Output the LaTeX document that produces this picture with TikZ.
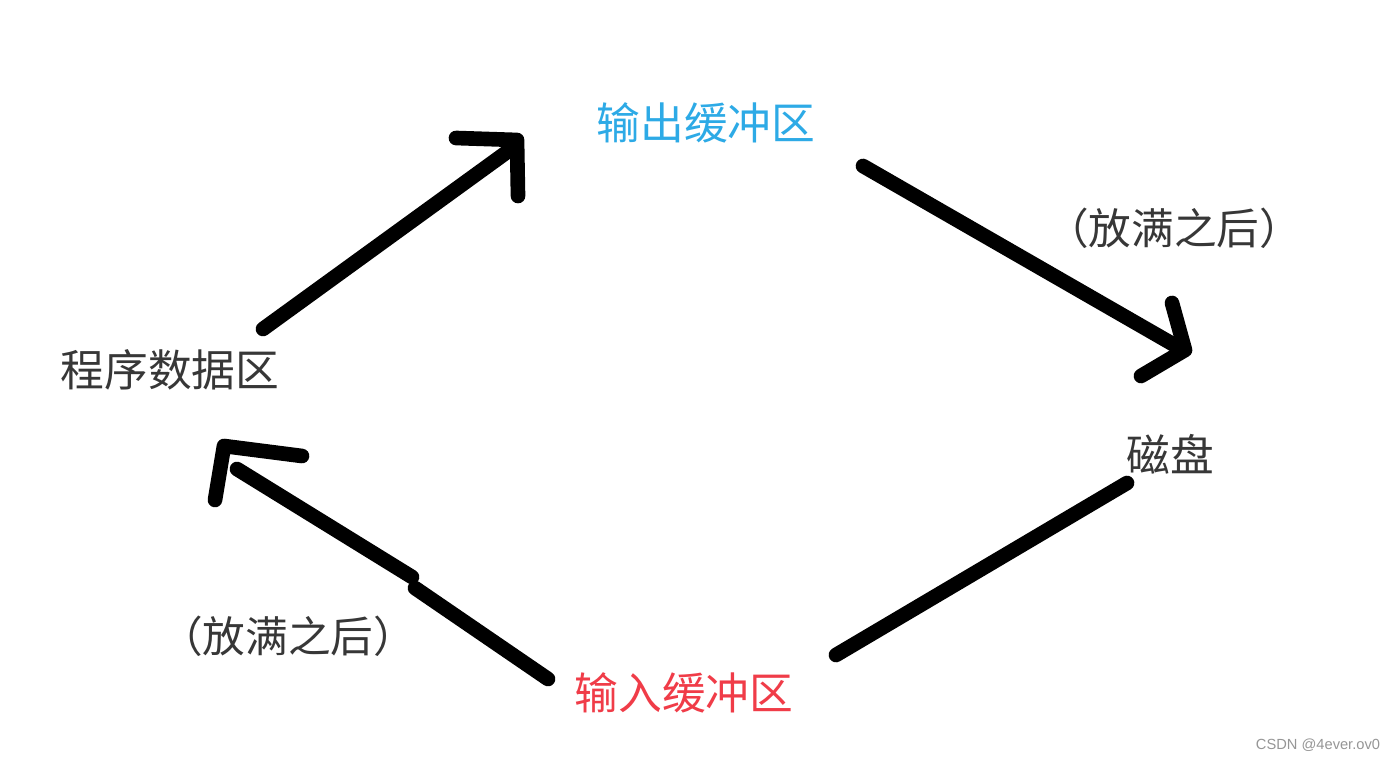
\documentclass[tikz,border=0pt]{standalone}
\usepackage{fontspec}
\setmainfont{Liberation Sans}
\newfontfamily\cjk{Noto Sans CJK SC}
\definecolor{txtgray}{RGB}{55,55,55}
\definecolor{outblue}{RGB}{45,170,230}
\definecolor{inred}{RGB}{240,60,72}
\definecolor{wmgray}{RGB}{150,150,150}
\begin{document}
\begin{tikzpicture}[x=0.75pt,y=-0.75pt,
  lbl/.style={inner sep=0pt,anchor=center,font=\cjk\fontsize{32.8}{33}\selectfont,text=txtgray},
  note/.style={inner sep=0pt,anchor=center,font=\cjk\fontsize{32}{32}\selectfont,text=txtgray},
  stroke/.style={line width=11pt,line cap=round,line join=round,black}]
\useasboundingbox[fill=white] (0,0) rectangle (1393,759);
% labels
\node[lbl,text=outblue] (out) at (706,123) {输出缓冲区};
\node[lbl] (prog) at (170,370) {程序数据区};
\node[lbl] (disk) at (1170,454) {磁盘};
\node[lbl,text=inred] (in) at (684,693) {输入缓冲区};
\node[note] (fullA) at (1174,228) {（放满之后）};
\node[note] (fullB) at (288,636) {（放满之后）};
\node[inner sep=0pt,font=\fontsize{11}{11}\selectfont,text=wmgray] (wm) at (1318,745) {CSDN @4ever.ov0};
% connector end points
\coordinate (a1s) at (263,329);
\coordinate (a1e) at (507,152);
\coordinate (a1h1) at (456,138);
\coordinate (a1t) at (517,140);
\coordinate (a1h2) at (518,196);
\coordinate (a2s) at (863,166);
\coordinate (a2e) at (1183,350);
\coordinate (a2h1) at (1172,303);
\coordinate (a2t) at (1185,350);
\coordinate (a2h2) at (1141,376);
\coordinate (l3s) at (1127,483);
\coordinate (l3e) at (836,655);
\coordinate (a4s) at (548,679);
\coordinate (a4m1) at (415,588);
\coordinate (a4m2) at (412,577);
\coordinate (a4e) at (237,469);
\coordinate (a4h1) at (302,456);
\coordinate (a4t) at (224,446);
\coordinate (a4h2) at (215,500);
% connectors
\draw[stroke] (a1s) -- (a1e);
\draw[stroke] (a1h1) -- (a1t) -- (a1h2);
\draw[stroke] (a2s) -- (a2e);
\draw[stroke] (a2h1) -- (a2t) -- (a2h2);
\draw[stroke] (l3s) -- (l3e);
\draw[stroke] (a4s) -- (a4m1);
\draw[stroke] (a4m2) -- (a4e);
\draw[stroke] (a4h1) -- (a4t) -- (a4h2);
\end{tikzpicture}
\end{document}
